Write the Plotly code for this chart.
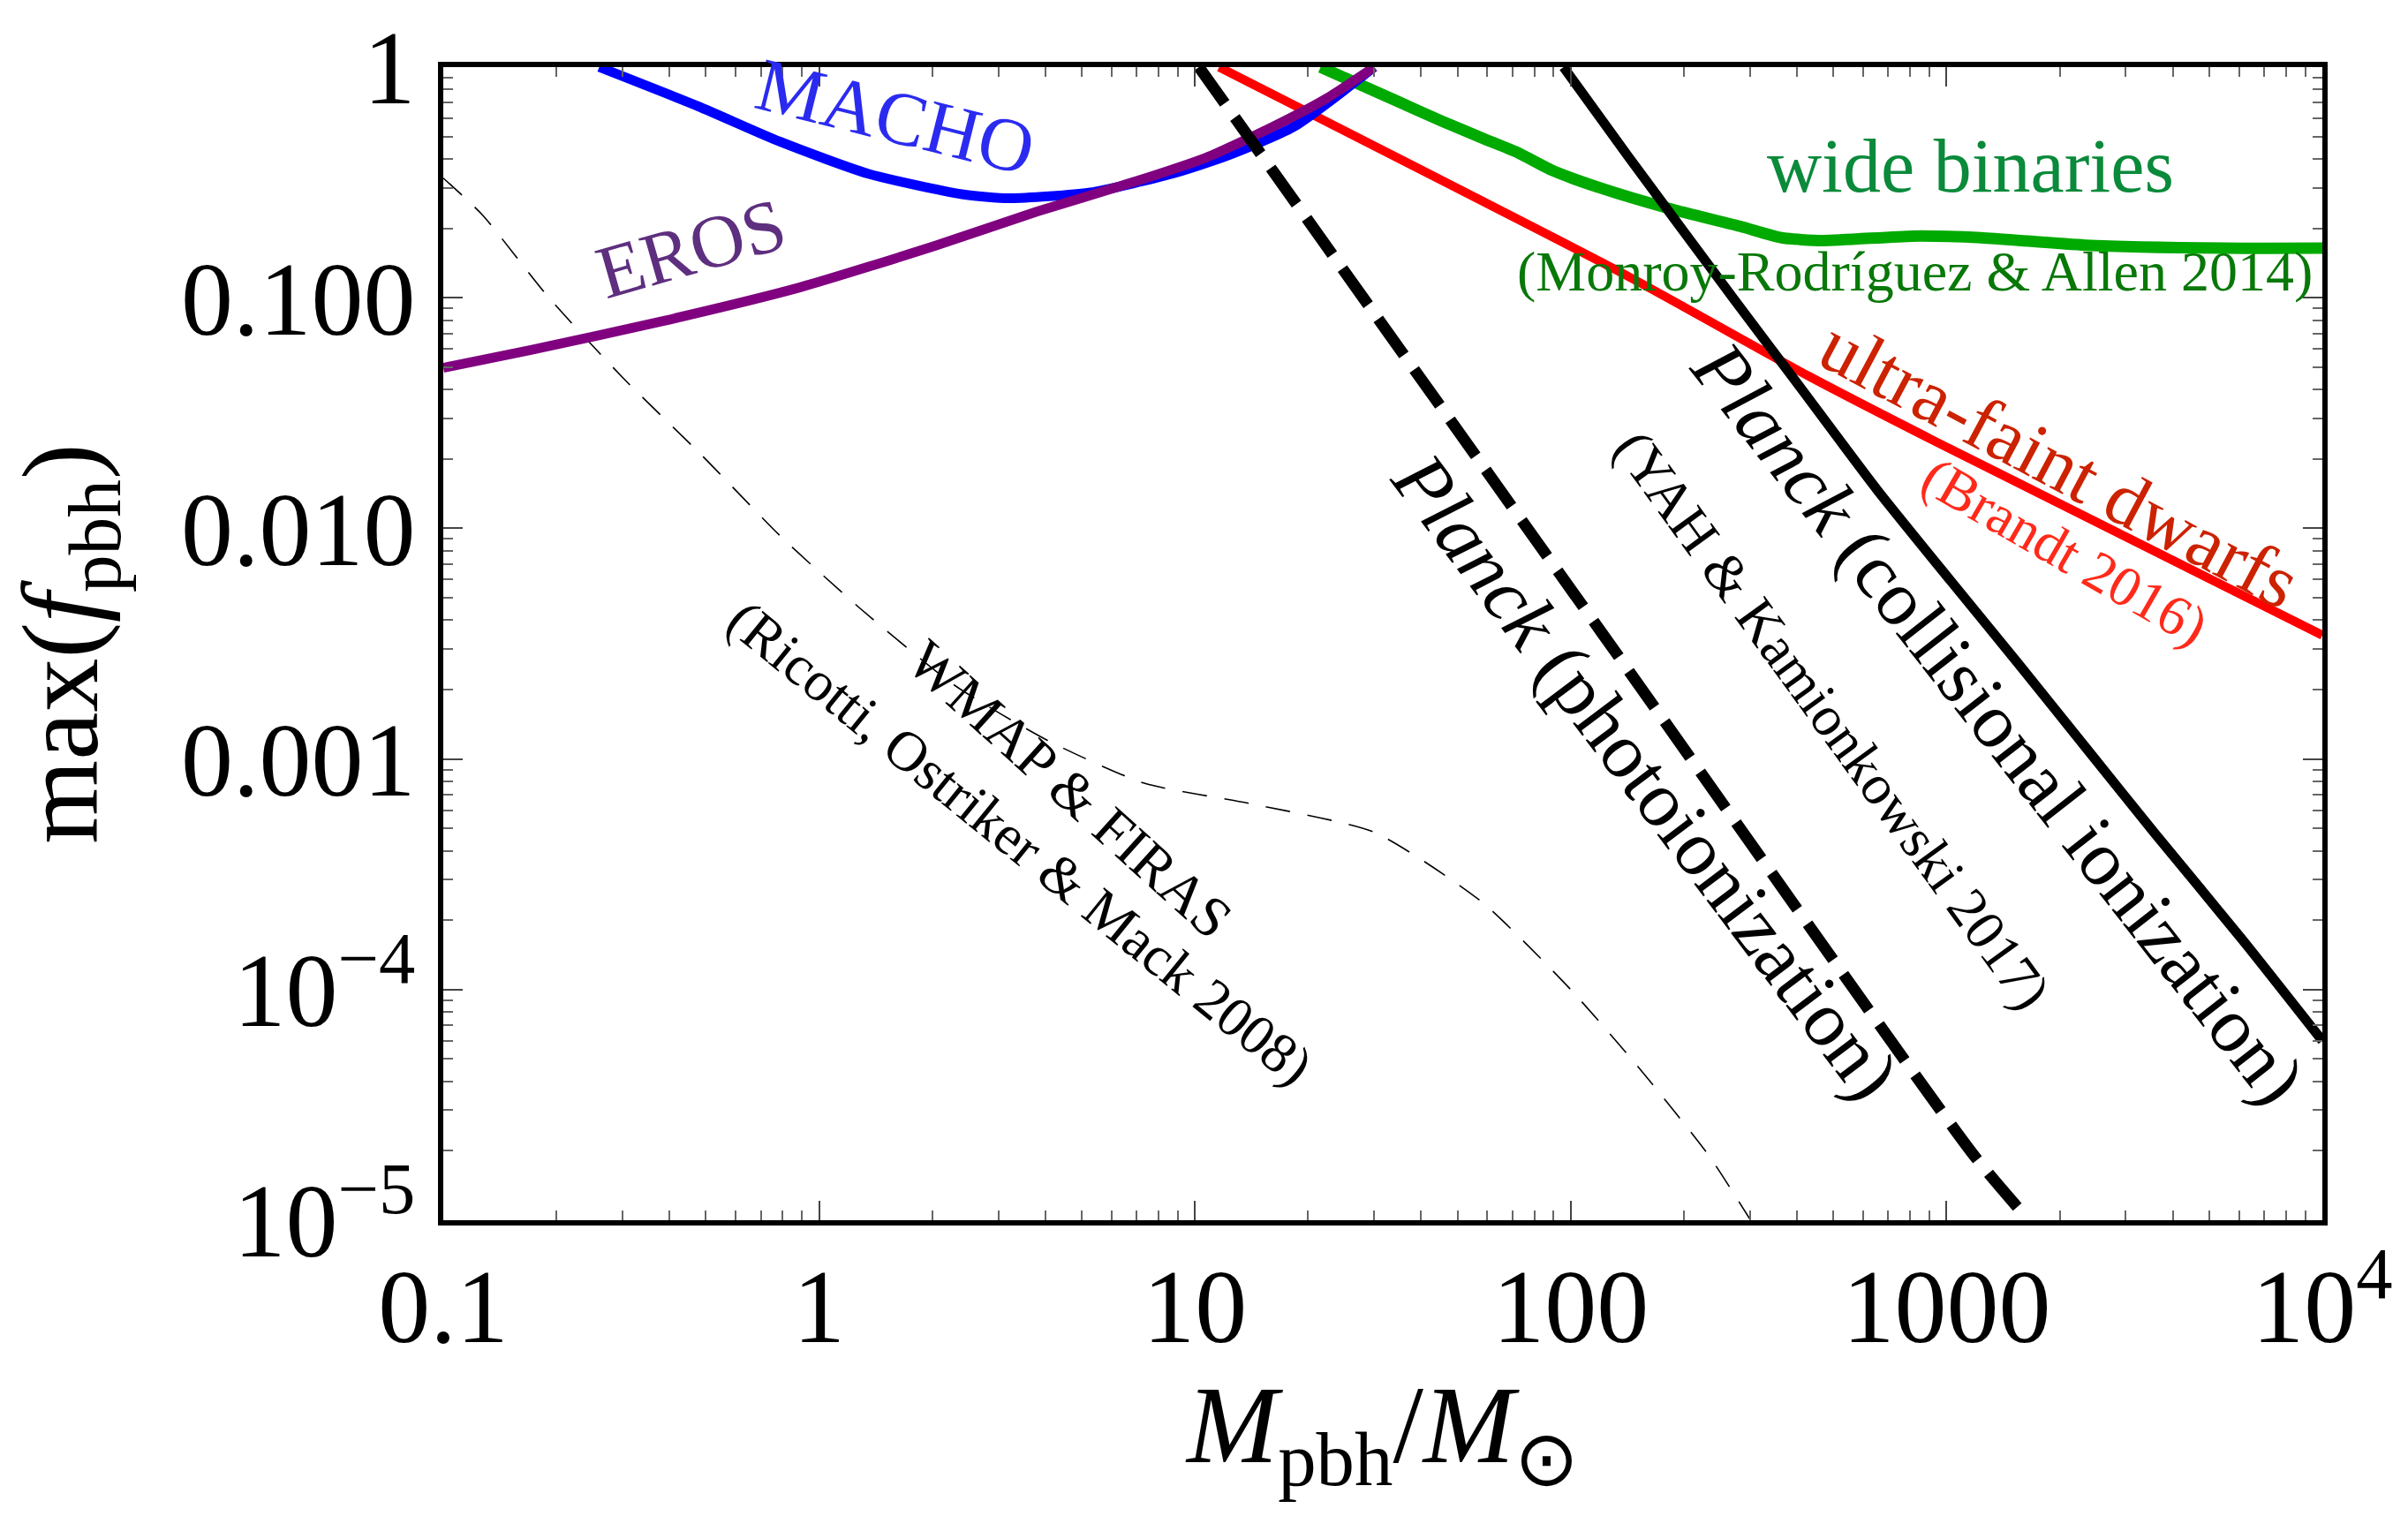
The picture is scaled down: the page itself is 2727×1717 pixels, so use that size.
import plotly.graph_objects as go

# PBH mass in solar masses vs. maximum allowed dark-matter fraction f_pbh

# MACHO microlensing
macho_m = [0.26, 0.478, 0.787, 1.35, 2.40, 3.21, 5.27, 8.7, 12.1, 18.3, 30.0]
macho_f = [1.0, 0.675, 0.475, 0.345, 0.281, 0.270, 0.286, 0.345, 0.411, 0.55, 1.0]

# EROS microlensing
eros_m = [0.1, 0.170, 0.389, 0.891, 2.04, 3.79, 7.06, 10.7, 16.1, 22.5, 30.0]
eros_f = [0.0497, 0.0592, 0.0796, 0.111, 0.168, 0.236, 0.322, 0.405, 0.551, 0.735, 1.0]

# wide binaries (Monroy-Rodriguez & Allen 2014)
wb_m = [21.6, 34.0, 45.5, 58.6, 72.5, 89.5, 120, 184, 282, 364, 469, 813, 1236, 2340, 5445, 10000]
wb_f = [1.0, 0.72, 0.582, 0.490, 0.425, 0.356, 0.299, 0.243, 0.204, 0.182, 0.177, 0.185, 0.182, 0.169, 0.164, 0.164]

# ultra-faint dwarfs (Brandt 2016)
ufd_m = [11.6, 142, 430, 925, 10000]
ufd_f = [1.0, 0.124, 0.0457, 0.024, 0.00344]

# Planck, collisional ionization (YAH & Kamionkowski 2017)
coll_m = [95.7, 142.2, 272, 400, 653, 1026, 1538, 2394, 3589, 6138, 10000]
coll_f = [1.0, 0.410, 0.0984, 0.0427, 0.01472, 0.00592, 0.00264, 1.077e-3, 4.74e-4, 1.64e-4, 6.0e-5]

# Planck, photoionization
photo_m = [10.25, 120, 1180, 1656]
photo_f = [1.0, 0.00359, 1.92e-5, 1.0e-5]

# WMAP & FIRAS (Ricotti, Ostriker & Mack 2008)
wmap_m = [0.1, 0.127, 0.191, 0.302, 0.488, 0.785, 1.285, 2.30, 4.11, 7.33, 14.2, 30, 58, 100, 154.5, 234, 301]
wmap_f = [0.33, 0.229, 0.1, 0.0446, 0.0207, 0.00933, 0.0045, 0.00208, 0.00119, 7.85e-4, 6.38e-4,
          4.81e-4, 2.4e-4, 1.0e-4, 4.43e-5, 1.89e-5, 1.0e-5]

# axis ticks
x_tickvals = [0.1, 1, 10, 100, 1000, 10000]
x_ticktext = ["0.1", "1", "10", "100", "1000", "10<sup>4</sup>"]
y_tickvals = [1, 0.1, 0.01, 0.001, 1e-4, 1e-5]
y_ticktext = ["1", "0.100", "0.010", "0.001", "10<sup>\u22124</sup>", "10<sup>\u22125</sup>"]

SERIF = "Liberation Serif"

fig = go.Figure()


def add_curve(m, f, color, width, dash="solid", shape="spline"):
    fig.add_trace(go.Scatter(
        x=m, y=f, mode="lines",
        line=dict(color=color, width=width, dash=dash, shape=shape, smoothing=0.6),
        hoverinfo="skip", showlegend=False,
    ))


add_curve(wmap_m, wmap_f, "black", 1.6, dash="28px,20px")
add_curve(ufd_m, ufd_f, "#FF0000", 10)
add_curve(wb_m, wb_f, "#00AA00", 13)
add_curve(macho_m, macho_f, "#0000FF", 11)
add_curve(eros_m, eros_f, "#800080", 11)
add_curve(photo_m, photo_f, "black", 13, dash="50px,20px")
add_curve(coll_m, coll_f, "black", 11)

# curve labels: text, log10(M), log10(f), angle, colour, size
labels = [
    ("MACHO", 0.203, -0.215, 14, "#2B2BF0", 86),
    ("EROS", -0.341, -0.785, -16, "#5E2F7F", 85),
    ("wide binaries", 3.063, -0.430, 0, "#0A8A3A", 86),
    ("(Monroy-Rodríguez &amp; Allen 2014)", 2.916, -0.885, 0, "#087808", 64),
    ("ultra-faint dwarfs", 3.300, -1.720, 28, "#CC2200", 86),
    ("(Brandt 2016)", 3.315, -2.100, 30, "#FF2A1A", 64),
    ("<i>Planck</i> (collisional ionization)", 3.138, -2.844, 52, "black", 88),
    ("(YAH &amp; Kamionkowski 2017)", 2.697, -2.830, 54, "black", 64),
    ("<i>Planck</i> (photoionization)", 2.200, -3.075, 53, "black", 89),
    ("WMAP &amp; FIRAS", 0.668, -3.132, 42, "black", 65),
    ("(Ricotti, Ostriker &amp; Mack 2008)", 0.535, -3.364, 39, "black", 64),
]
for text, lx, ly, ang, col, size in labels:
    fig.add_annotation(
        x=lx, y=ly, xref="x", yref="y", text=text, showarrow=False,
        textangle=ang, xanchor="center", yanchor="middle",
        font=dict(family=SERIF, size=size, color=col),
    )

x_minor = [k * 10.0 ** d for d in range(-1, 4) for k in range(2, 10)]
y_minor = [k * 10.0 ** d for d in range(-5, 0) for k in range(2, 10)]

axis_common = dict(
    type="log",
    showline=True, linewidth=6, linecolor="black", mirror="ticks",
    ticks="inside", ticklen=22, tickwidth=2, tickcolor="#444444",
    showgrid=False, zeroline=False,
    tickfont=dict(family=SERIF, size=118, color="black"),
)

fig.update_xaxes(
    **axis_common,
    range=[-1, 4],
    tickmode="array", tickvals=x_tickvals, ticktext=x_ticktext,
    minor=dict(ticks="inside", ticklen=11, tickwidth=1.5, tickcolor="#666666",
               tickmode="array", tickvals=x_minor, showgrid=False),
    ticklabelstandoff=-10,
    title=dict(text="<i>M</i><sub>pbh</sub>/<i>M</i><sub>\u2299</sub>",
               font=dict(family=SERIF, size=124, color="black"), standoff=19),
)
fig.update_yaxes(
    **axis_common,
    range=[-5, 0],
    tickmode="array", tickvals=y_tickvals, ticktext=y_ticktext,
    minor=dict(ticks="inside", ticklen=11, tickwidth=1.5, tickcolor="#666666",
               tickmode="array", tickvals=y_minor, showgrid=False),
    ticklabelstandoff=2,
    title=dict(text="max(<i>f</i><sub>pbh</sub>)",
               font=dict(family=SERIF, size=122, color="black"), standoff=55),
)

fig.update_layout(
    width=2727, height=1717,
    margin=dict(l=502, r=97, t=65, b=335),
    paper_bgcolor="white", plot_bgcolor="white",
    font=dict(family=SERIF, color="black"),
)

fig.write_html("out.html")
